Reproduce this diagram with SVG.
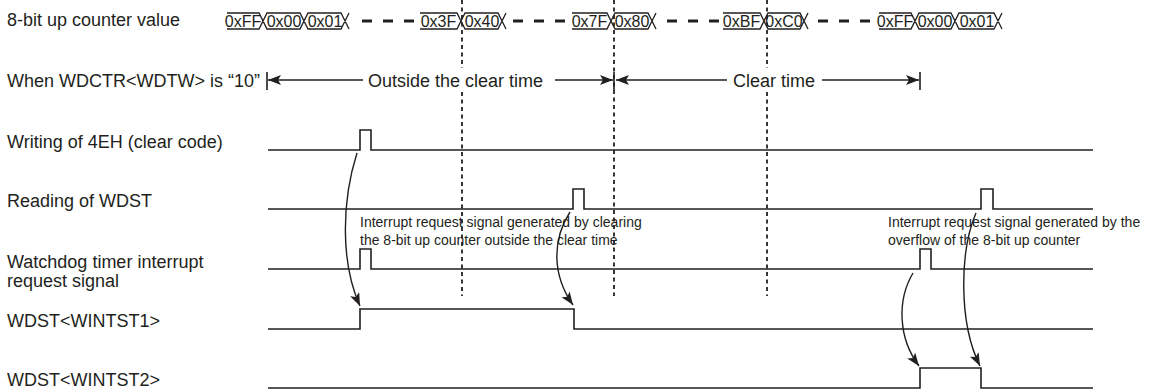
<svg xmlns="http://www.w3.org/2000/svg" width="1155" height="392" viewBox="0 0 1155 392">
<style>
.lbl{font-family:"Liberation Sans",Arial,sans-serif;font-size:18px;fill:#231f20}
.val{font-family:"Liberation Sans",Arial,sans-serif;font-size:16px;fill:#231f20;text-anchor:middle}
.ann{font-family:"Liberation Sans",Arial,sans-serif;font-size:14px;fill:#231f20}
.sig{fill:none;stroke:#231f20;stroke-width:1.6}
.bus{fill:none;stroke:#231f20;stroke-width:1.3}
.gap{fill:none;stroke:#231f20;stroke-width:3;stroke-dasharray:10 11}
.dot{fill:none;stroke:#231f20;stroke-width:1.8;stroke-dasharray:4 3.5}
.dim{fill:none;stroke:#231f20;stroke-width:1.3}
.tick{fill:none;stroke:#231f20;stroke-width:1.6}
.cur{fill:none;stroke:#231f20;stroke-width:1.4}
</style>
<defs>
<marker id="ah" markerUnits="userSpaceOnUse" markerWidth="14" markerHeight="10" refX="13" refY="5" orient="auto">
<path d="M0,0 L13,5 L0,10 L3,5 Z" fill="#231f20"/>
</marker>
<marker id="ca" markerUnits="userSpaceOnUse" markerWidth="14" markerHeight="10" refX="13" refY="5" orient="auto">
<path d="M0,0 L13,5 L0,10 L3,5 Z" fill="#231f20"/>
</marker>
</defs>
<rect width="1155" height="392" fill="#fff"/>

<g id="guides">
<path class="dot" d="M462,0 V68 M462,92 V296"/>
<path class="dot" d="M614,0 V296"/>
<path class="dot" d="M767,0 V68 M767,92 V296"/>
</g>

<g id="counter">
<text class="lbl" x="7" y="26">8-bit up counter value</text>
<path class="bus" d="M227,13 H259 L267,29 H300 L308,13 H341 L349,29 M227,29 H259 L267,13 H300 L308,29 H341 L349,13"/>
<path class="bus" d="M420,13 H457 L465,29 H498 L506,13 M420,29 H457 L465,13 H498 L506,29"/>
<path class="bus" d="M572,13 H607 L615,29 H648 L656,13 M572,29 H607 L615,13 H648 L656,29"/>
<path class="bus" d="M723,13 H760 L768,29 H800 L808,13 M723,29 H760 L768,13 H800 L808,29"/>
<path class="bus" d="M879,13 H911 L919,29 H951 L959,13 H994 L1002,29 M879,29 H911 L919,13 H951 L959,29 H994 L1002,13"/>
<path class="gap" d="M362,21 H415 M513,21 H566 M667,21 H720 M818,21 H870"/>
<text class="val" x="243" y="27">0xFF</text>
<text class="val" x="284" y="27">0x00</text>
<text class="val" x="325" y="27">0x01</text>
<text class="val" x="438.5" y="27">0x3F</text>
<text class="val" x="482" y="27">0x40</text>
<text class="val" x="589.5" y="27">0x7F</text>
<text class="val" x="632" y="27">0x80</text>
<text class="val" x="741.5" y="27">0xBF</text>
<text class="val" x="784" y="27">0xC0</text>
<text class="val" x="895" y="27">0xFF</text>
<text class="val" x="935" y="27">0x00</text>
<text class="val" x="977" y="27">0x01</text>
</g>

<g id="wdtw">
<text class="lbl" x="7" y="87">When WDCTR&lt;WDTW&gt; is “10”</text>
<path class="tick" d="M267,72 V90 M614,72 V90 M920,72 V90"/>
<path class="dim" d="M363,80 H268" marker-end="url(#ah)"/>
<text class="lbl" x="368" y="87">Outside the clear time</text>
<path class="dim" d="M555,80 H613" marker-end="url(#ah)"/>
<path class="dim" d="M727,80 H616" marker-end="url(#ah)"/>
<text class="lbl" x="733" y="87">Clear time</text>
<path class="dim" d="M822,80 H919" marker-end="url(#ah)"/>
</g>

<g id="writing">
<text class="lbl" x="7" y="148">Writing of 4EH (clear code)</text>
<path class="sig" d="M268,150 H360 V130 H371 V150 H1093"/>
</g>

<g id="reading">
<text class="lbl" x="7" y="207">Reading of WDST</text>
<path class="sig" d="M268,209 H573 V189 H584 V209 H981 V189 H993 V209 H1093"/>
</g>

<g id="wdtint">
<text class="lbl" x="7" y="268">Watchdog timer interrupt</text>
<text class="lbl" x="7" y="287">request signal</text>
<path class="sig" d="M268,269 H360 V249 H371 V269 H920 V249 H931 V269 H1093"/>
</g>

<g id="wintst1">
<text class="lbl" x="7" y="327">WDST&lt;WINTST1&gt;</text>
<path class="sig" d="M268,329 H360 V309 H574 V329 H1093"/>
</g>

<g id="wintst2">
<text class="lbl" x="7" y="386">WDST&lt;WINTST2&gt;</text>
<path class="sig" d="M268,388 H920 V368 H981 V388 H1093"/>
</g>

<g id="notes">
<text class="ann" x="360" y="227">Interrupt request signal generated by clearing</text>
<text class="ann" x="360" y="245">the 8-bit up counter outside the clear time</text>
<text class="ann" x="888" y="227">Interrupt request signal generated by the</text>
<text class="ann" x="888" y="245">overflow of the 8-bit up counter</text>
</g>

<g id="connectors">
<path class="cur" d="M357,153 C342,200 340,262 360,306" marker-end="url(#ca)"/>
<path class="cur" d="M570,212 C552,240 552,275 573,305" marker-end="url(#ca)"/>
<path class="cur" d="M913,273 C897,300 898,338 919,366" marker-end="url(#ca)"/>
<path class="cur" d="M976,213 C960,250 958,322 980,366" marker-end="url(#ca)"/>
</g>
</svg>
